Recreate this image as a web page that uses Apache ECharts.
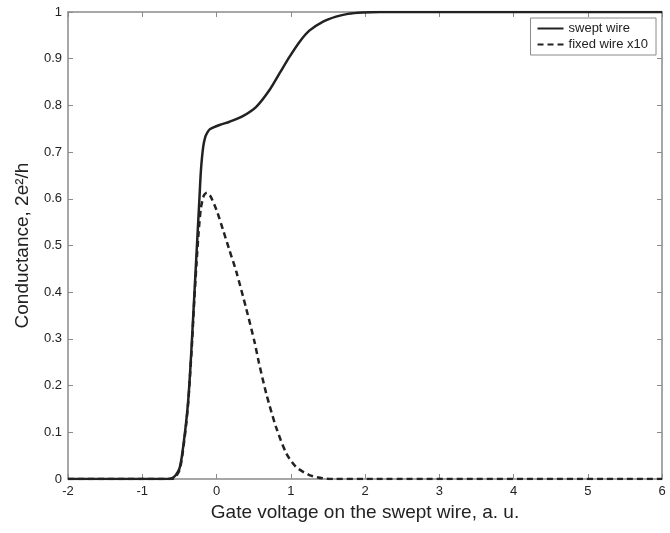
<!DOCTYPE html>
<html>
<head>
<meta charset="utf-8">
<script src="https://cdn.jsdelivr.net/npm/echarts@6/dist/echarts.min.js"></script>
<style>html,body{margin:0;padding:0;background:#fff}#c{width:670px;height:533px}</style>
</head>
<body>
<div id="c"></div>
<script>
// Data
const xTicks = [-2, -1, 0, 1, 2, 3, 4, 5, 6];
const yTicks = [0, 0.1, 0.2, 0.3, 0.4, 0.5, 0.6, 0.7, 0.8, 0.9, 1];

const sweptX = [-2, -1.2, -0.7, -0.6, -0.55, -0.5, -0.47, -0.44, -0.41, -0.38, -0.355, -0.33, -0.30, -0.27, -0.25, -0.23, -0.21, -0.18, -0.15, -0.12, -0.09, 0.04, 0.175, 0.354, 0.535, 0.714, 0.85, 0.983, 1.118, 1.25, 1.43, 1.61, 1.77, 1.97, 2.2, 2.6, 6];
const sweptY = [0, 0, 0, 0.002, 0.008, 0.022, 0.045, 0.08, 0.12, 0.17, 0.23, 0.30, 0.39, 0.48, 0.54, 0.60, 0.66, 0.71, 0.733, 0.743, 0.749, 0.758, 0.765, 0.777, 0.797, 0.833, 0.869, 0.904, 0.936, 0.960, 0.979, 0.990, 0.996, 0.999, 1, 1, 1];

const fixedX = [-2, -1.2, -0.6, -0.55, -0.5, -0.47, -0.44, -0.41, -0.38, -0.355, -0.33, -0.30, -0.27, -0.24, -0.21, -0.17, -0.13, -0.08, 0.0, 0.085, 0.17, 0.265, 0.4, 0.51, 0.57, 0.67, 0.80, 0.94, 1.07, 1.25, 1.43, 1.6, 2.0, 6];
const fixedY = [0, 0, 0, 0.005, 0.018, 0.04, 0.075, 0.115, 0.165, 0.225, 0.29, 0.38, 0.46, 0.53, 0.58, 0.607, 0.613, 0.605, 0.576, 0.535, 0.492, 0.445, 0.365, 0.295, 0.25, 0.183, 0.112, 0.055, 0.026, 0.0085, 0.0015, 0, 0, 0];

const seriesNames = ['swept wire', 'fixed wire x10'];

const pairs = (xs, ys) => xs.map((x, i) => [x, ys[i]]);

const axisCol = '#8a8a8a';
const font = 'Liberation Sans, Arial, sans-serif';

const chart = echarts.init(document.getElementById('c'));
chart.setOption({
  animation: false,
  backgroundColor: '#fff',
  grid: { left: 68, right: 8, top: 12, bottom: 54 },
  legend: {
    right: 14, top: 18, orient: 'vertical',
    backgroundColor: '#fff', borderColor: axisCol, borderWidth: 1,
    padding: [4, 8, 4, 6], itemGap: 3, itemWidth: 26, itemHeight: 12,
    itemStyle: { opacity: 0 },
    textStyle: { fontFamily: font, fontSize: 13, color: '#222' },
    data: seriesNames
  },
  xAxis: [{
    type: 'value', min: -2, max: 6, interval: 1,
    name: 'Gate voltage on the swept wire, a. u.', nameLocation: 'middle', nameGap: 22,
    nameTextStyle: { fontFamily: font, fontSize: 19, color: '#222' },
    axisLine: { show: true, onZero: false, lineStyle: { color: axisCol, width: 1.5 } },
    axisTick: { show: true, inside: true, length: 5, lineStyle: { color: axisCol } },
    axisLabel: { fontFamily: font, fontSize: 13, color: '#222', margin: 6,
      formatter: v => xTicks.includes(v) ? String(v) : '' },
    splitLine: { show: false }
  }, {
    type: 'value', min: -2, max: 6, interval: 1, position: 'top',
    axisLine: { show: true, onZero: false, lineStyle: { color: axisCol, width: 1.5 } },
    axisTick: { show: true, inside: true, length: 5, lineStyle: { color: axisCol } },
    axisLabel: { show: false }, splitLine: { show: false }
  }],
  yAxis: [{
    type: 'value', min: 0, max: 1, interval: 0.1,
    name: 'Conductance, 2e²/h', nameLocation: 'middle', nameGap: 36,
    nameTextStyle: { fontFamily: font, fontSize: 19, color: '#222' },
    axisLine: { show: true, onZero: false, lineStyle: { color: axisCol, width: 1.5 } },
    axisTick: { show: true, inside: true, length: 5, lineStyle: { color: axisCol } },
    axisLabel: { fontFamily: font, fontSize: 13, color: '#222', margin: 6,
      formatter: v => { const t = yTicks.find(k => Math.abs(k - v) < 1e-9); return t === undefined ? '' : String(t); } },
    splitLine: { show: false }
  }, {
    type: 'value', min: 0, max: 1, interval: 0.1, position: 'right',
    axisLine: { show: true, onZero: false, lineStyle: { color: axisCol, width: 1.5 } },
    axisTick: { show: true, inside: true, length: 5, lineStyle: { color: axisCol } },
    axisLabel: { show: false }, splitLine: { show: false }
  }],
  series: [{
    name: seriesNames[0], type: 'line', showSymbol: false, symbol: 'none',
    smooth: 0.25,
    data: pairs(sweptX, sweptY),
    lineStyle: { color: '#222', width: 2.5 }, itemStyle: { color: '#222' }
  }, {
    name: seriesNames[1], type: 'line', showSymbol: false, symbol: 'none',
    smooth: 0.25,
    data: pairs(fixedX, fixedY),
    lineStyle: { color: '#222', width: 2.5, type: [6, 4] }, itemStyle: { color: '#222' }
  }]
});
</script>
</body>
</html>
